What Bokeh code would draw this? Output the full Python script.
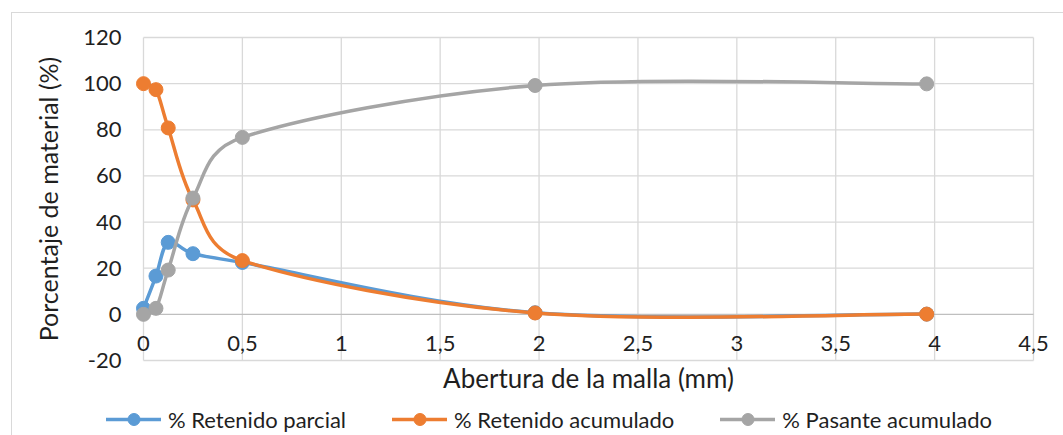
import math

from bokeh.plotting import figure
from bokeh.models import Range1d, FixedTicker, Legend, LegendItem
from bokeh.embed import file_html
from bokeh.resources import INLINE

# Sieve openings (mm) and percentages for each series
abertura = [0, 0.063, 0.125, 0.25, 0.5, 1.98, 3.96]
retenido_parcial = [2.6, 16.6, 31.2, 26.3, 22.5, 0.7, 0.1]
retenido_acumulado = [100, 97.4, 80.8, 49.6, 23.3, 0.6, 0.1]
pasante_acumulado = [0, 2.6, 19.2, 50.4, 76.7, 99.2, 99.9]

series_names = ["% Retenido parcial", "% Retenido acumulado", "% Pasante acumulado"]
series_colors = ["#5B9BD5", "#ED7D31", "#A5A5A5"]

x_ticks = [0, 0.5, 1, 1.5, 2, 2.5, 3, 3.5, 4, 4.5]
x_tick_labels = ["0", "0,5", "1", "1,5", "2", "2,5", "3", "3,5", "4", "4,5"]
y_ticks = [-20, 0, 20, 40, 60, 80, 100, 120]
y_tick_labels = ["-20", "0", "20", "40", "60", "80", "100", "120"]

# plotting area in data units, and the full canvas extent around it
X_MIN, X_MAX = 0, 4.5
Y_MIN, Y_MAX = -20, 120
SX = 890 / (X_MAX - X_MIN)      # px per mm
SY = 323 / (Y_MAX - Y_MIN)      # px per %
CANVAS_W, CANVAS_H = 1052, 423
PAD_L, PAD_T = 131, 24          # canvas px left of / above the plotting area

FONT = "Lato"
TEXT = "#1f1f1f"
GRID = "#D9D9D9"


def smooth_segments(xs, ys):
    """Cubic Bezier segments through the points, spreadsheet-style smoothing:
    tangents of 1/6 of the neighbour chord, capped at half the segment."""
    n = len(xs)
    seg = {k: [] for k in ("x0", "y0", "x1", "y1", "cx0", "cy0", "cx1", "cy1")}

    def dist(i, j):
        return math.hypot((xs[j] - xs[i]) * SX, (ys[j] - ys[i]) * SY)

    for i in range(n - 1):
        a = max(i - 1, 0)
        d = min(i + 2, n - 1)
        d12 = dist(i, i + 1)
        d02 = dist(a, i + 1)
        d13 = dist(i, d)
        f1 = 1 / 6 if d02 / 6 < d12 / 2 else d12 / (2 * d02)
        f2 = 1 / 6 if d13 / 6 < d12 / 2 else d12 / (2 * d13)
        seg["x0"].append(xs[i]); seg["y0"].append(ys[i])
        seg["x1"].append(xs[i + 1]); seg["y1"].append(ys[i + 1])
        seg["cx0"].append(xs[i] + (xs[i + 1] - xs[a]) * f1)
        seg["cy0"].append(ys[i] + (ys[i + 1] - ys[a]) * f1)
        seg["cx1"].append(xs[i + 1] - (xs[d] - xs[i]) * f2)
        seg["cy1"].append(ys[i + 1] - (ys[d] - ys[i]) * f2)
    return seg


x0 = X_MIN - PAD_L / SX
x1 = x0 + CANVAS_W / SX
y1 = Y_MAX + PAD_T / SY
y0 = y1 - CANVAS_H / SY

p = figure(
    width=CANVAS_W, height=CANVAS_H,
    x_range=Range1d(x0, x1), y_range=Range1d(y0, y1),
    output_backend="svg", toolbar_location=None,
    min_border=0, margin=(12, 0, 0, 11),
)
p.styles = {"border-top": "1px solid #D9D9D9", "border-left": "1px solid #D9D9D9"}
p.outline_line_color = None
p.background_fill_color = "white"
p.border_fill_color = "white"
p.xgrid.visible = False
p.ygrid.visible = False

# gridlines over the plotting area; the y = 0 line is the horizontal axis
p.segment(x0=x_ticks, y0=[Y_MIN] * len(x_ticks), x1=x_ticks, y1=[Y_MAX] * len(x_ticks),
          line_color=GRID, line_width=1.3)
p.segment(x0=[X_MIN] * len(y_ticks), y0=y_ticks, x1=[X_MAX] * len(y_ticks), y1=y_ticks,
          line_color=["#BFBFBF" if t == 0 else GRID for t in y_ticks], line_width=1.3)

# x axis: labels hang under the y = 0 line
xa = p.xaxis[0]
xa.fixed_location = 0
xa.bounds = (X_MIN, X_MAX)
xa.ticker = FixedTicker(ticks=x_ticks)
xa.major_label_overrides = dict(zip(x_ticks, x_tick_labels))
xa.axis_line_color = None
xa.major_tick_line_color = None
xa.minor_tick_line_color = None
xa.major_tick_in = 0
xa.major_tick_out = 0
xa.major_label_standoff = 22
xa.major_label_text_font = FONT
xa.major_label_text_font_size = "22px"
xa.major_label_text_color = TEXT
xa.axis_label = "Abertura de la malla (mm)"
xa.axis_label_standoff = 7
xa.axis_label_text_font = FONT
xa.axis_label_text_font_size = "26px"
xa.axis_label_text_font_style = "normal"
xa.axis_label_text_color = TEXT

ya = p.yaxis[0]
ya.fixed_location = 0
ya.bounds = (Y_MIN, Y_MAX)
ya.ticker = FixedTicker(ticks=y_ticks)
ya.major_label_overrides = dict(zip(y_ticks, y_tick_labels))
ya.axis_line_color = None
ya.major_tick_line_color = None
ya.minor_tick_line_color = None
ya.major_tick_in = 0
ya.major_tick_out = 0
ya.major_label_standoff = 22
ya.major_label_text_font = FONT
ya.major_label_text_font_size = "22px"
ya.major_label_text_color = TEXT
ya.axis_label = "Porcentaje de material (%)"
ya.axis_label_standoff = 17
ya.axis_label_text_font = FONT
ya.axis_label_text_font_size = "25px"
ya.axis_label_text_font_style = "normal"
ya.axis_label_text_color = TEXT

items = []
for name, color, ys in zip(series_names, series_colors,
                           [retenido_parcial, retenido_acumulado, pasante_acumulado]):
    seg = smooth_segments(abertura, ys)
    curve = p.bezier(x0="x0", y0="y0", x1="x1", y1="y1", cx0="cx0", cy0="cy0",
                     cx1="cx1", cy1="cy1", source=seg, line_color=color,
                     line_width=3.5, line_cap="round")
    dots = p.scatter(abertura, ys, size=14, marker="circle",
                     fill_color=color, line_color=color)
    items.append(LegendItem(label=name, renderers=[curve, dots]))

legend = Legend(items=items, orientation="horizontal", location=(94, 2),
                glyph_width=55, glyph_height=30, label_standoff=7,
                spacing=46, label_text_font=FONT, label_text_font_size="22px",
                label_text_color=TEXT, background_fill_alpha=0,
                border_line_color=None, padding=2, margin=0)
p.add_layout(legend)

open("out.html", "w").write(file_html(p, INLINE))
